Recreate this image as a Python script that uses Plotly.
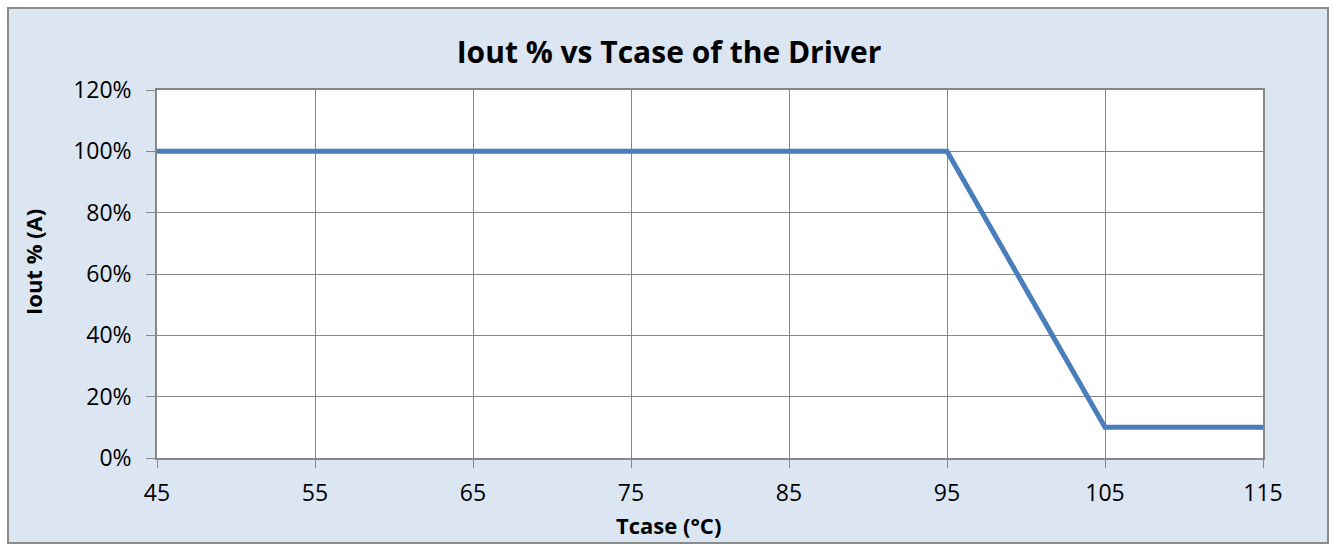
import plotly.graph_objects as go

# Data
tcase = [45, 95, 105, 115]
iout_pct = [1.00, 1.00, 0.10, 0.10]
x_ticks = [45, 55, 65, 75, 85, 95, 105, 115]
y_ticks = [0, 0.2, 0.4, 0.6, 0.8, 1.0, 1.2]
y_tick_labels = ["0%", "20%", "40%", "60%", "80%", "100%", "120%"]

W, H = 1333, 544
L, R, T, B = 157, 70, 90, 86
pw, ph = W - L - R, H - T - B

def px(x):
    return (x - L) / pw

def py(y):
    return (H - B - y) / ph

BG = "#dce6f2"
GRID = "#878787"
FONT = "Open Sans"

fig = go.Figure()
fig.add_trace(go.Scatter(
    x=tcase, y=iout_pct, mode="lines",
    line=dict(color="#4a7ebb", width=5),
    showlegend=False, hoverinfo="skip",
))

shapes = [
    dict(type="rect", xref="paper", yref="paper",
         x0=px(8), x1=px(1328), y0=py(543), y1=py(8),
         line=dict(color="#8c8c8c", width=2), fillcolor="rgba(0,0,0,0)", layer="above"),
    dict(type="rect", xref="paper", yref="paper",
         x0=px(-5), x1=px(7), y0=py(550), y1=py(-5),
         line=dict(width=0), fillcolor="white", layer="above"),
    dict(type="rect", xref="paper", yref="paper",
         x0=px(-5), x1=px(1340), y0=py(7), y1=py(-5),
         line=dict(width=0), fillcolor="white", layer="above"),
    dict(type="rect", xref="paper", yref="paper",
         x0=px(1329), x1=px(1340), y0=py(550), y1=py(-5),
         line=dict(width=0), fillcolor="white", layer="above"),
]

annotations = [
    dict(text="<b>Tcase (°C)</b>", xref="paper", yref="paper",
         x=px(668), y=py(525), xanchor="center", yanchor="middle",
         showarrow=False, font=dict(family=FONT, size=22, color="black")),
    dict(text="<b>Iout % (A)</b>", xref="paper", yref="paper",
         x=px(33), y=py(262), xanchor="center", yanchor="middle", textangle=-90,
         showarrow=False, font=dict(family=FONT, size=22, color="black")),
]

fig.update_layout(
    width=W, height=H,
    margin=dict(l=L, r=R, t=T, b=B, pad=0),
    paper_bgcolor=BG, plot_bgcolor="white",
    font=dict(family=FONT, size=23, color="black"),
    title=dict(text="<b>Iout % vs Tcase of the Driver</b>",
               font=dict(family=FONT, size=30, color="black"),
               x=669 / W, xanchor="center", y=1 - 52 / H, yanchor="middle"),
    shapes=shapes,
    annotations=annotations,
    xaxis=dict(
        range=[45, 115], tickvals=x_ticks, ticktext=[str(v) for v in x_ticks],
        showgrid=True, gridcolor=GRID, gridwidth=1,
        showline=True, linecolor=GRID, linewidth=1.5, mirror=True,
        ticks="outside", ticklen=8, tickcolor=GRID, tickwidth=1,
        ticklabelstandoff=6, zeroline=False,
    ),
    yaxis=dict(
        range=[0, 1.2], tickvals=y_ticks, ticktext=y_tick_labels,
        showgrid=True, gridcolor=GRID, gridwidth=1,
        showline=True, linecolor=GRID, linewidth=1.5, mirror=True,
        ticks="outside", ticklen=9, tickcolor=GRID, tickwidth=1,
        ticklabelstandoff=10, zeroline=False,
    ),
)

fig.write_html("out.html", config={"displayModeBar": False},
               post_script="document.body.style.margin='0';")
